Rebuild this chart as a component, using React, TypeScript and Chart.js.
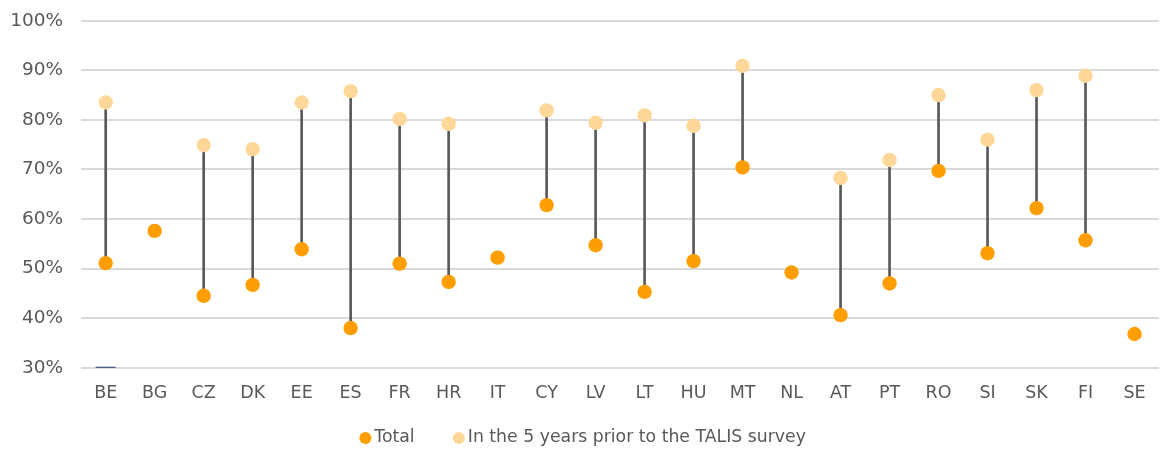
import React, { useEffect, useRef } from "react";
import { Chart, registerables } from "chart.js";

Chart.register(...registerables);

const categories = ["BE", "BG", "CZ", "DK", "EE", "ES", "FR", "HR", "IT", "CY", "LV", "LT", "HU", "MT", "NL", "AT", "PT", "RO", "SI", "SK", "FI", "SE"];
const totalValues = [51.1, 57.6, 44.5, 46.7, 53.9, 38.0, 51.0, 47.3, 52.2, 62.8, 54.7, 45.3, 51.5, 70.4, 49.2, 40.6, 47.0, 69.7, 53.1, 62.2, 55.7, 36.8];
const priorValues: (number | null)[] = [83.5, null, 74.9, 74.1, 83.5, 85.8, 80.2, 79.2, null, 81.9, 79.4, 80.9, 78.8, 90.9, null, 68.3, 71.9, 85.0, 76.0, 86.0, 88.9, null];
const markerValues: (number | null)[] = [30, null, null, null, null, null, null, null, null, null, null, null, null, null, null, null, null, null, null, null, null, null];
const yTicks = [30, 40, 50, 60, 70, 80, 90, 100];
const seriesNames = ["Total", "In the 5 years prior to the TALIS survey"];

const TEXT = "#595959";
const FONT = "'DejaVu Sans', Verdana, sans-serif";
const LEGEND_PAD = 44;
const LEGEND_CENTER_Y = 438;

const legendShift = {
  id: "legendShift",
  afterLayout(chart: any) {
    const l = chart.legend;
    if (!l) return;
    const ih = l.height - LEGEND_PAD - 10;
    const newTop = LEGEND_CENTER_Y - LEGEND_PAD - ih / 2;
    const h = l.height;
    l.top = newTop;
    l.bottom = newTop + h;
  },
};

export default function App() {
  const ref = useRef<HTMLCanvasElement | null>(null);
  useEffect(() => {
    if (!ref.current) return;
    const ranges = totalValues.map((t, i) => (priorValues[i] == null ? null : [t, priorValues[i] as number]));
    const chart = new Chart(ref.current, {
      type: "bar",
      data: {
        labels: categories,
        datasets: [
          {
            type: "line",
            label: seriesNames[0],
            data: totalValues,
            showLine: false,
            pointStyle: "circle",
            pointRadius: 7.2,
            pointBorderWidth: 0,
            pointBackgroundColor: "#FF9E00",
            backgroundColor: "#FF9E00",
            borderColor: "#FF9E00",
            order: 1,
          } as any,
          {
            type: "line",
            label: seriesNames[1],
            data: priorValues,
            showLine: false,
            pointStyle: "circle",
            pointRadius: 7.2,
            pointBorderWidth: 0,
            pointBackgroundColor: "#FFD899",
            backgroundColor: "#FFD899",
            borderColor: "#FFD899",
            order: 1,
          } as any,
          {
            type: "bar",
            label: "range",
            data: ranges as any,
            backgroundColor: "#595959",
            borderWidth: 0,
            barThickness: 2,
            grouped: false,
            order: 3,
          } as any,
          {
            type: "line",
            label: "marker",
            data: markerValues,
            showLine: false,
            pointStyle: "line",
            pointRadius: 10,
            pointBorderWidth: 2,
            pointBorderColor: "#203864",
            borderColor: "#203864",
            order: 2,
          } as any,
        ],
      },
      options: {
        animation: false,
        responsive: false,
        maintainAspectRatio: false,
        layout: { padding: { top: 20.7, right: 0, bottom: -25, left: 0 } },
        plugins: {
          tooltip: { enabled: false },
          legend: {
            position: "bottom",
            labels: {
              usePointStyle: true,
              boxWidth: 0.5,
              boxHeight: 8.5,
              padding: LEGEND_PAD,
              color: TEXT,
              font: { family: FONT, size: 17.3 },
              filter: (item: any) => item.datasetIndex < 2,
            },
          },
        },
        scales: {
          x: {
            type: "category",
            offset: true,
            grid: { display: false, drawTicks: false },
            border: { display: false },
            ticks: { color: TEXT, font: { family: FONT, size: 17.5 }, padding: 15, maxRotation: 0, autoSkip: false },
            afterFit: (s: any) => { s.height = 36; s.paddingLeft = 0; s.paddingRight = 0; },
          },
          y: {
            min: 30,
            max: 100,
            afterBuildTicks: (s: any) => { s.ticks = yTicks.map((v) => ({ value: v })); },
            grid: { color: "#D9D9D9", lineWidth: 2, drawTicks: false },
            border: { display: false },
            ticks: {
              color: TEXT,
              font: { family: FONT, size: 18.5 },
              padding: 18,
              callback: (v: any) => `${v}%`,
            },
            afterFit: (s: any) => { s.width = 81.2; s.paddingTop = 0; s.paddingBottom = 0; },
          },
        },
      } as any,
      plugins: [legendShift],
    });
    return () => chart.destroy();
  }, []);
  return (
    <div style={{ position: "fixed", left: 0, top: 0, width: 1171, height: 450, background: "#fff" }}>
      <canvas ref={ref} width={1171} height={450} style={{ width: 1171, height: 450, display: "block" }} />
    </div>
  );
}
